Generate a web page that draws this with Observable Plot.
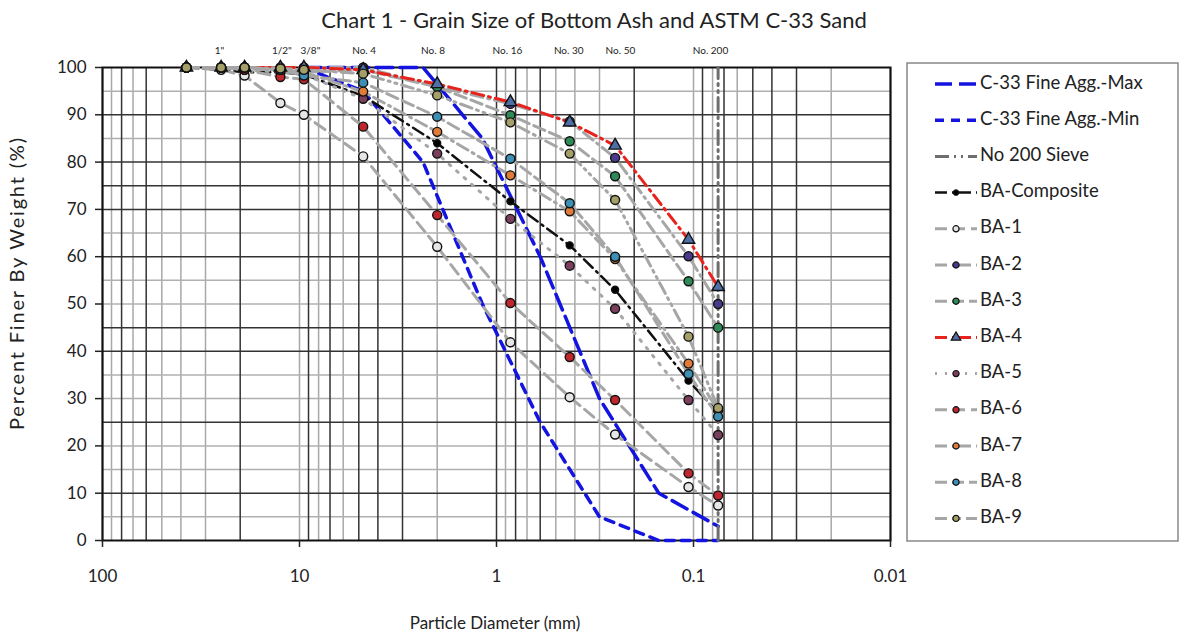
<!DOCTYPE html>
<html><head><meta charset="utf-8">
<script src="https://cdn.jsdelivr.net/npm/d3@7"></script>
<script src="https://cdn.jsdelivr.net/npm/@observablehq/plot@0.6"></script>
<style>
body{margin:0;background:#fff;}
#wrap{position:relative;width:1182px;height:636px;overflow:hidden;font-family:Lato,"Open Sans",sans-serif;}
#chart{position:absolute;left:0;top:0}
#overlay{position:absolute;left:0;top:0}
</style></head><body>
<div id="wrap"><div id="chart"></div><svg id="overlay" width="1182" height="636"></svg></div>
<script>
// ---------- data ----------
const baSieves = [37.5, 25, 19, 12.5, 9.5, 4.75, 2.0, 0.85, 0.425, 0.25, 0.106, 0.075];
const baComposite = [100, 99.5, 99, 99, 98.5, 94, 84, 71.7, 62.4, 53, 33.8, 27];
const ba1 = [100, 99.5, 98.3, 92.5, 90, 81.2, 62.1, 41.9, 30.3, 22.4, 11.3, 7.4];
const ba2 = [100, 100, 100, 100, 100, 100, 96, 92.3, 88.6, 80.9, 60.1, 50];
const ba3 = [100, 100, 99.7, 99.5, 99, 99.5, 95.9, 89.9, 84.4, 77, 54.8, 45];
const ba4 = [100, 100, 100, 100, 100, 99.5, 96.5, 92.7, 88.4, 83.5, 63.6, 53.6];
const ba5 = [100, 100, 99.5, 99, 98.5, 93.4, 81.8, 68, 58.1, 49, 29.7, 22.3];
const ba6 = [100, 100, 99.5, 98, 97.5, 87.5, 68.8, 50.2, 38.8, 29.7, 14.2, 9.5];
const ba7 = [100, 100, 100, 99.5, 99, 94.9, 86.4, 77.2, 69.6, 59.5, 37.4, 27.5];
const ba8 = [100, 100, 100, 99.5, 98.3, 96.8, 89.6, 80.7, 71.3, 60, 35.2, 26.2];
const ba9 = [100, 100, 100, 99.8, 99.5, 98.7, 94.1, 88.4, 81.8, 72, 43.1, 28];

const c33Sieves = [9.5, 4.75, 2.36, 1.18, 0.6, 0.3, 0.15, 0.075];
const c33Max = [100, 100, 100, 85, 60, 30, 10, 3];
const c33Min = [100, 95, 80, 50, 25, 5, 0, 0];

const no200Size = 0.075;
const no200Span = [0, 100];

const sieveLabels = ['1"', '1/2"', '3/8"', "No. 4", "No. 8", "No. 16", "No. 30", "No. 50", "No. 200"];
const sieveLabelSizes = [25.5, 12.3, 8.8, 4.7, 2.1, 0.88, 0.43, 0.235, 0.082];

const xTicks = [100, 10, 1, 0.1, 0.01];
const yTicks = [0, 10, 20, 30, 40, 50, 60, 70, 80, 90, 100];

const titleText = "Chart 1 - Grain Size of Bottom Ash and ASTM C-33 Sand";
const xLabel = "Particle Diameter (mm)";
const yLabel = "Percent Finer By Weight (%)";

// ---------- styles ----------
const baSeries = [
  {name: "BA-Composite", values: baComposite, stroke: "#111", dash: "12,5,2,5", fill: "#000", symbol: "circle", r: 3.5, w: 2.5},
  {name: "BA-1", values: ba1, stroke: "#a6a6a6", dash: "12,6", fill: "#e6e6e6", symbol: "circle", r: 4.5, w: 3},
  {name: "BA-2", values: ba2, stroke: "#a6a6a6", dash: "12,5,2,5", fill: "#4b3a8c", symbol: "circle", r: 4.5, w: 3},
  {name: "BA-3", values: ba3, stroke: "#a6a6a6", dash: "12,5", fill: "#2e8b57", symbol: "circle", r: 4.5, w: 3},
  {name: "BA-4", values: ba4, stroke: "#e8231e", dash: "12,5,2,5", fill: "#4f6fa8", symbol: "triangle", r: 4.6, w: 3},
  {name: "BA-5", values: ba5, stroke: "#a6a6a6", dash: "2,8", fill: "#7b3f5e", symbol: "circle", r: 4.5, w: 3},
  {name: "BA-6", values: ba6, stroke: "#a6a6a6", dash: "12,6", fill: "#c0262d", symbol: "circle", r: 4.5, w: 3},
  {name: "BA-7", values: ba7, stroke: "#a6a6a6", dash: "12,5,2,5", fill: "#e07b39", symbol: "circle", r: 4.5, w: 3},
  {name: "BA-8", values: ba8, stroke: "#a6a6a6", dash: "12,5", fill: "#3e8fb5", symbol: "circle", r: 4.5, w: 3},
  {name: "BA-9", values: ba9, stroke: "#a6a6a6", dash: "12,5,2,5,2,5", fill: "#a5a06a", symbol: "circle", r: 4.5, w: 3}
];
const c33Style = {max: {stroke: "#1414e0", dash: "17,7"}, min: {stroke: "#1414e0", dash: "9,7"}};
const no200Style = {stroke: "#6e6e6e", dash: "14,5,2,5,2,5"};

// grid values (log minor grid)
const xGrid = Array.from(new Set([10, 1, 0.1, 0.01].flatMap(d => d3.range(1, 11).map(m => +(m * d).toPrecision(3)))));
function xDark(v) {
  const e = Math.floor(Math.log10(v) + 1e-9);
  const m = Math.round(v / Math.pow(10, e));
  return (e % 2 === 0) ? [1, 3, 4, 5, 7, 9].includes(m) : [2, 6, 8].includes(m);
}
const yGrid = d3.range(5, 100, 5);
const yDarkSet = new Set([10, 25, 40, 45, 60, 70, 75, 80, 90]);

const toRows = (sizes, vals) => sizes.map((s, i) => ({size: s, value: vals[i]}));

const marks = [];
marks.push(Plot.ruleX(xGrid.filter(v => !xDark(v)), {stroke: "#a8a8a8", strokeWidth: 1.5}));
marks.push(Plot.ruleY(yGrid.filter(v => !yDarkSet.has(v)), {stroke: "#b0b0b0", strokeWidth: 1.5}));
marks.push(Plot.ruleX(xGrid.filter(v => xDark(v)), {stroke: "#333", strokeWidth: 1.5}));
marks.push(Plot.ruleY(yGrid.filter(v => yDarkSet.has(v)), {stroke: "#333", strokeWidth: 1.5}));
marks.push(Plot.frame({stroke: "#111", strokeWidth: 2}));

marks.push(Plot.line(toRows(c33Sieves, c33Max), {x: "size", y: "value", stroke: c33Style.max.stroke, strokeWidth: 3.5, strokeDasharray: c33Style.max.dash}));
marks.push(Plot.line(toRows(c33Sieves, c33Min), {x: "size", y: "value", stroke: c33Style.min.stroke, strokeWidth: 3.5, strokeDasharray: c33Style.min.dash}));
marks.push(Plot.line(no200Span.map(v => ({size: no200Size, value: v})), {x: "size", y: "value", stroke: no200Style.stroke, strokeWidth: 3, strokeDasharray: no200Style.dash}));

for (const s of baSeries) {
  marks.push(Plot.line(toRows(baSieves, s.values), {x: "size", y: "value", stroke: s.stroke, strokeWidth: s.w, strokeDasharray: s.dash}));
}
for (const s of baSeries) {
  marks.push(Plot.dot(toRows(baSieves, s.values), {x: "size", y: "value", fill: s.fill, stroke: "#111", strokeWidth: 1.4, r: s.r, symbol: s.symbol}));
}

marks.push(Plot.text(sieveLabels, {x: (d, i) => sieveLabelSizes[i], text: d => d, frameAnchor: "top", dy: -21, fontSize: 10, fill: "#222"}));

marks.push(Plot.axisY({ticks: yTicks, tickSize: 7, tickPadding: 9, fontSize: 17, label: null, tickFormat: d => String(d), strokeWidth: 1.5}));
marks.push(Plot.axisX({ticks: xTicks, tickSize: 7, tickPadding: 22, fontSize: 17, label: null, tickFormat: d => String(d), strokeWidth: 1.5}));

const chart = Plot.plot({
  width: 1182, height: 636,
  marginLeft: 102, marginRight: 292, marginTop: 67, marginBottom: 96,
  x: {type: "log", domain: [100, 0.01]},
  y: {domain: [0, 100]},
  style: {fontFamily: "Lato, 'Open Sans', sans-serif", color: "#222", background: "#fff", overflow: "visible"},
  marks
});
document.getElementById("chart").append(chart);

// ---------- overlay: title, axis labels, legend ----------
const ov = d3.select("#overlay").style("font-family", "Lato, 'Open Sans', sans-serif");
ov.append("text").attr("x", 594).attr("y", 22).attr("text-anchor", "middle").attr("dominant-baseline", "middle")
  .attr("font-size", 22).attr("fill", "#222").text(titleText);
ov.append("text").attr("x", 495).attr("y", 625).attr("text-anchor", "middle").attr("dominant-baseline", "middle")
  .attr("font-size", 17).attr("fill", "#222").text(xLabel);
ov.append("text").attr("transform", "translate(19,284) rotate(-90)").attr("text-anchor", "middle").attr("dominant-baseline", "middle")
  .attr("font-size", 20).attr("textLength", 292).attr("lengthAdjust", "spacing").attr("fill", "#222").text(yLabel);

const legendEntries = [
  {name: "C-33 Fine Agg.-Max", stroke: c33Style.max.stroke, dash: c33Style.max.dash, w: 3.5},
  {name: "C-33 Fine Agg.-Min", stroke: c33Style.min.stroke, dash: c33Style.min.dash, w: 3.5},
  {name: "No 200 Sieve", stroke: no200Style.stroke, dash: no200Style.dash, w: 3},
  ...baSeries.map(s => ({name: s.name, stroke: s.stroke, dash: s.dash, w: s.w, fill: s.fill, symbol: s.symbol, r: s.r}))
];
const lg = ov.append("g").attr("transform", "translate(907,63)");
lg.append("rect").attr("x", 0).attr("y", 0).attr("width", 271).attr("height", 478)
  .attr("fill", "#fff").attr("stroke", "#888").attr("stroke-width", 1.5);
legendEntries.forEach((e, i) => {
  const g = lg.append("g").attr("transform", `translate(0,${21 + i * 36.2})`);
  g.append("line").attr("x1", 28).attr("x2", 70).attr("y1", 0).attr("y2", 0)
    .attr("stroke", e.stroke).attr("stroke-width", e.w).attr("stroke-dasharray", e.dash);
  if (e.fill) {
    const sym = e.symbol === "triangle" ? d3.symbolTriangle : d3.symbolCircle;
    const size = e.symbol === "triangle" ? 40 : (e.name === "BA-Composite" ? 22 : 30);
    g.append("path").attr("transform", "translate(49,0)").attr("d", d3.symbol(sym, size)())
      .attr("fill", e.fill).attr("stroke", "#111").attr("stroke-width", 1.2);
  }
  g.append("text").attr("x", 73).attr("y", 0).attr("dominant-baseline", "middle")
    .attr("font-size", 18.5).attr("fill", "#222").text(e.name);
});
</script>
</body></html>
